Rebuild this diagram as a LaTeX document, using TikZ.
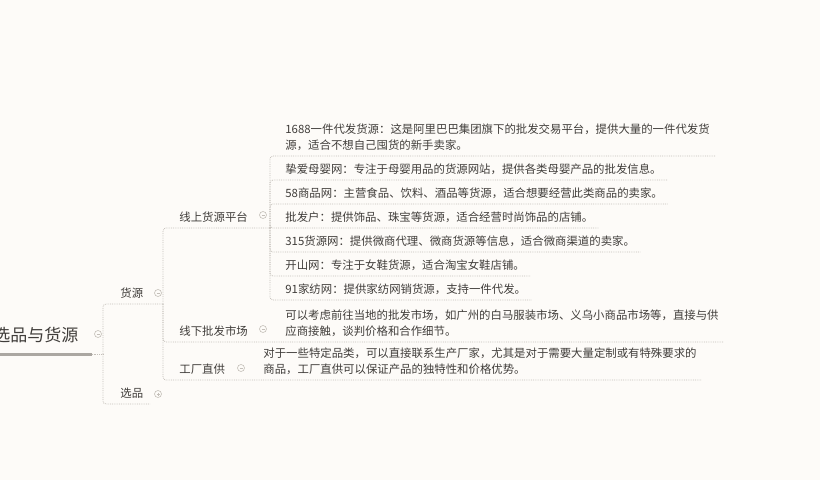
\documentclass[tikz,border=0pt]{standalone}
\usepackage{fontspec}
\setmainfont{Noto Sans CJK SC}
\usepackage{xcolor}
\definecolor{paper}{HTML}{FDFBF8}
\definecolor{ink}{HTML}{403D3A}
\definecolor{rule}{HTML}{C4BFB9}
\definecolor{bar}{HTML}{ABA7A2}
\usepackage{tikz}
\usetikzlibrary{positioning}
\tikzset{
  every picture/.style={line width=0.8pt},
  topic/.style={anchor=south west, inner xsep=5pt, inner ysep=6.5pt, text depth=0pt,
    text=ink, align=left, font=\fontsize{11.4}{16}\selectfont},
  roottopic/.style={topic, inner xsep=13pt, inner ysep=12pt, font=\fontsize{17}{20}\selectfont},
  link/.style={draw=rule, densely dotted, rounded corners=3pt},
  fold/.style={circle, draw=rule, line width=0.6pt, minimum size=7pt, inner sep=0pt},
  foldminus/.style={fold, path picture={
    \draw[rule, line width=0.6pt] ([xshift=2pt]path picture bounding box.west) -- ([xshift=-2pt]path picture bounding box.east);}},
  foldplus/.style={fold, path picture={
    \draw[rule, line width=0.6pt] ([xshift=2pt]path picture bounding box.west) -- ([xshift=-2pt]path picture bounding box.east);
    \draw[rule, line width=0.6pt] ([yshift=-2pt]path picture bounding box.north) -- ([yshift=2pt]path picture bounding box.south);}},
}

\begin{document}
\begin{tikzpicture}[x=1pt, y=-1pt]
  \useasboundingbox (0,0) rectangle (820,480);
  \fill[paper] (0,0) rectangle (820,480);
  \clip (0,0) rectangle (820,480);

  % central topic
  \node[roottopic] (root) at (-20,354) {选品与货源};
  \draw[bar, line width=3pt] (root.south west) -- (root.south east);
  \node[foldminus] (rootfold) at (98,334) {};
  \coordinate (rootj) at (103,354);

  % main branches
  \node[topic] (src) at (115,304) {货源};
  \node[topic] (pick) at (115,404) {选品};
  \node[foldminus] (srcfold) at (158,293) {};
  \node[foldplus] (pickfold) at (158,394) {};
  \coordinate (srcj) at (163,304);
  \coordinate (pickend) at (150,404);

  % sub branches
  \node[topic] (online) at (174,228) {线上货源平台};
  \node[topic] (offline) at (174,342) {线下批发市场};
  \node[topic] (factory) at (174,380) {工厂直供};
  \node[foldminus] (onfold) at (263,215) {};
  \node[foldminus] (offfold) at (263,329) {};
  \node[foldminus] (factfold) at (241,368) {};
  \coordinate (onj) at (270,228);

  % details
  \node[topic] (p1) at (280,156) {1688一件代发货源：这是阿里巴巴集团旗下的批发交易平台，提供大量的一件代发货\\源，适合不想自己囤货的新手卖家。};
  \node[topic] (p2) at (280,180) {挚爱母婴网：专注于母婴用品的货源网站，提供各类母婴产品的批发信息。};
  \node[topic] (p3) at (280,204) {58商品网：主营食品、饮料、酒品等货源，适合想要经营此类商品的卖家。};
  \node[topic] (p4) at (280,228) {批发户：提供饰品、珠宝等货源，适合经营时尚饰品的店铺。};
  \node[topic] (p5) at (280,252) {315货源网：提供微商代理、微商货源等信息，适合微商渠道的卖家。};
  \node[topic] (p6) at (280,276) {开山网：专注于女鞋货源，适合淘宝女鞋店铺。};
  \node[topic] (p7) at (280,300) {91家纺网：提供家纺网销货源，支持一件代发。};
  \node[topic] (offtext) at (280,342) {可以考虑前往当地的批发市场，如广州的白马服装市场、义乌小商品市场等，直接与供\\应商接触，谈判价格和合作细节。};
  \node[topic] (facttext) at (258,380) {对于一些特定品类，可以直接联系生产厂家，尤其是对于需要大量定制或有特殊要求的\\商品，工厂直供可以保证产品的独特性和价格优势。};

  % connectors
  \draw[link] (root.south east) -- (rootj);
  \draw[link] (rootj) |- (src.south west) -- (srcj);
  \draw[link] (rootj) |- (pick.south west) -- (pickend);
  \draw[link] (srcj) |- (online.south west) -- (onj);
  \draw[link] (srcj) |- (offline.south west) -- (offtext.south east);
  \draw[link] (srcj) |- (factory.south west) -- (facttext.south east);
  \foreach \p in {p1,p2,p3,p4,p5,p6,p7} \draw[link] (onj) |- (\p.south west) -- (\p.south east);
\end{tikzpicture}
\end{document}
